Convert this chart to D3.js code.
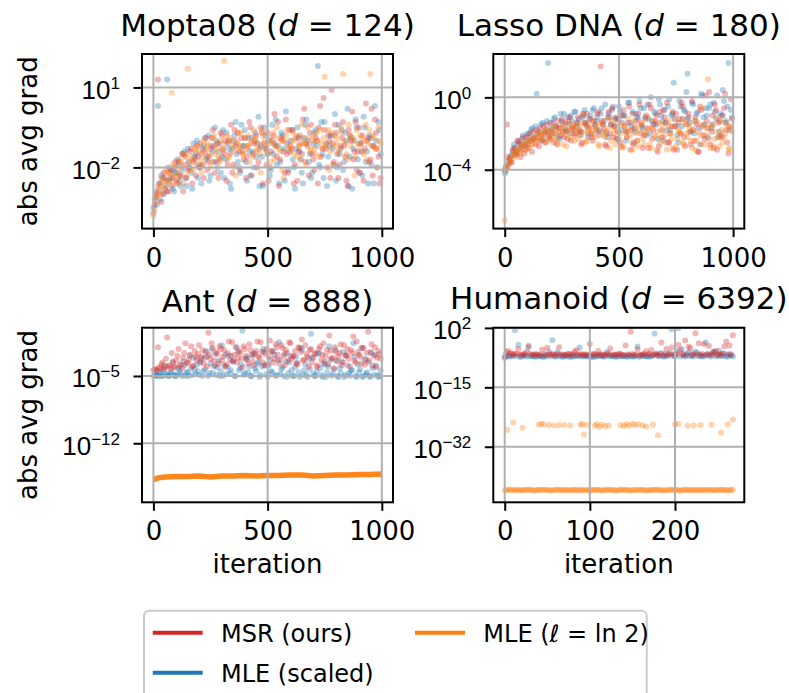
<!DOCTYPE html>
<html>
<head>
<meta charset="utf-8">
<script src="https://cdn.jsdelivr.net/npm/d3@7/dist/d3.min.js"></script>
<style>
body { margin: 0; background: #fff; }
svg { display: block; font-family: "DejaVu Sans", sans-serif; }
</style>
</head>
<body>
<div id="chart"></div>
<script>
// values are log10 of abs avg grad
// each long run is sampled at two interleaved sets of iterations
var iterLong = d3.range(0, 1000, 10);
var iterLong2 = d3.range(5, 1000, 10);
var iterHum = d3.range(0, 272, 4);
var iterHum2 = d3.range(2, 270, 4);

var moptaMSR = [
  -3.7, -3.1, 1.3, -2.6, -3.0, -2.4, -2.9, -2.2, -2.7, -2.0,
  -2.5, -1.8, -2.3, -2.9, -1.6, -2.1, -1.4, -2.6, -1.7, -1.2,
  -2.0, -1.5, -2.4, -0.9, -1.8, -1.3, -0.6, -2.2, -1.1, -1.7,
  -0.8, -1.5, -2.5, -1.0, -0.4, -1.9, -1.2, -0.7, -2.1, -1.4,
  -0.9, -1.6, -0.3, -2.3, -1.1, -0.8, -1.8, -0.5, -2.6, -1.3,
  -0.7, -2.0, -1.0, 0.0, -1.6, -2.7, -0.9, -1.4, -0.2, -2.2,
  -1.2, -0.6, -1.9, -2.5, -0.8, -1.5, 0.2, -1.1, -2.3, -0.4,
  -1.7, -0.9, -2.6, 0.3, -1.3, -0.6, -2.0, -1.0, 0.9, -1.8,
  -0.7, -2.4, -1.2, -0.3, -1.6, -2.7, -0.8, 0.1, -1.4, -2.1,
  -0.5, -1.1, -2.5, 0.4, -0.9, -1.7, -2.3, -0.2, -1.3, -2.6
];
var moptaMSR2 = [
  -3.4, -3.0, -2.8, -3.3, -2.2, -2.5, -2.9, -2.1, -2.4, -1.8,
  -2.6, -2.3, -1.5, -1.9, -2.4, -2.0, -1.3, -1.8, -2.3, -1.6,
  -1.1, -1.9, -1.4, -2.1, -1.6, -0.9, -1.2, -1.8, -2.4, -0.7,
  -1.3, -1.0, -1.9, -1.5, -2.2, -0.6, -1.1, -1.4, -0.9, -1.7,
  -2.4, -1.2, -0.5, -1.5, -1.0, -2.0, -1.3, -0.7, -1.1, -1.9,
  -2.5, -1.4, -0.8, -1.2, -0.3, -1.7, -1.0, -2.2, -1.5, -0.6,
  -1.3, -2.6, -0.9, -1.4, -1.1, -0.2, -1.8, -1.2, -0.7, -1.5,
  -2.1, -1.0, -0.5, -1.6, 0.6, -1.3, -0.8, -2.4, -1.1, -0.4,
  -1.5, -1.9, -0.9, -1.2, -2.5, -0.6, -1.0, -1.7, -0.3, -1.4,
  -2.2, -0.8, -1.3, -1.0, -1.8, 0.2, -1.2, -0.7, -1.6, -2.4
];
var moptaScaled = [
  -3.5, -2.9, 0.3, -3.2, -2.4, -2.8, 1.3, -2.5, -2.1, -2.9,
  -2.2, -1.9, -2.7, -1.5, -2.4, -1.3, -2.0, -2.8, -1.6, -1.0,
  -1.9, -2.6, -1.2, -1.7, -0.8, -2.3, -1.4, -0.5, -2.0, -1.1,
  -1.6, -2.4, -0.7, -1.3, -2.8, -1.0, -0.3, -1.8, -2.2, -1.2,
  -0.6, -2.5, -1.4, -0.9, -2.0, -1.6, -0.1, -1.2, -2.7, -0.8,
  -1.5, -2.3, -0.4, -1.1, -1.9, -2.6, -0.7, -1.3, 0.1, -2.1,
  -1.0, -1.7, -2.8, -0.5, -1.4, -2.2, -0.9, -0.2, -1.8, -2.4,
  -1.1, -0.6, 1.8, -2.0, -1.5, -0.3, -2.7, -1.2, -0.8, -1.9,
  -2.5, -0.4, -1.3, -2.1, -0.7, 0.2, -1.6, -2.8, -1.0, -0.5,
  -2.2, -1.4, -0.1, -1.8, -2.6, -0.9, -1.2, 0.3, -2.0, -0.6
];
var moptaScaled2 = [
  -3.2, -3.4, -2.6, -2.3, -3.0, -2.7, -2.0, -2.4, -2.8, -2.2,
  -1.7, -2.5, -2.1, -1.4, -2.7, -1.8, -2.2, -1.1, -1.5, -2.4,
  -2.0, -1.3, -0.9, -1.6, -2.5, -1.2, -1.8, -1.0, -1.4, -2.2,
  -0.6, -1.7, -1.1, -2.6, -1.3, -0.8, -1.5, -2.0, -0.4, -1.2,
  -1.8, -0.9, -2.3, -1.4, -0.7, -1.1, -2.7, -1.6, -0.5, -1.3,
  -1.0, -2.1, -1.5, -0.2, -1.2, -1.8, -0.8, -2.5, -1.1, -1.4,
  -0.6, -2.0, -1.3, -0.9, -1.7, -2.6, -0.4, -1.0, -1.5, -2.2,
  -0.7, -1.2, -1.9, -0.3, -2.4, -1.1, -1.6, -0.8, -1.3, 0.0,
  -2.0, -1.5, -0.6, -1.8, -1.0, -2.7, -0.9, -1.3, -0.2, -1.7,
  -1.1, -2.3, -0.5, -1.4, -0.8, -1.9, -2.6, -1.0, -0.3, -1.5
];
var moptaLn2 = [
  -3.8, -3.3, -2.7, -3.0, -2.5, -2.8, -2.2, -2.6, 0.8, -2.3,
  -2.0, -2.4, -1.8, -2.6, -1.5, 1.7, -2.1, -1.7, -1.3, -1.9,
  -1.4, -2.2, -1.0, -1.6, -1.2, -2.0, -0.9, -1.5, -1.1, -1.8,
  -1.3, 2.0, -0.8, -1.6, -1.0, -1.4, -2.3, -0.7, -1.2, -1.5,
  -0.9, -1.3, -1.8, -1.0, -0.6, -1.4, -1.1, -2.2, -0.8, -1.2,
  -1.5, -0.9, -1.1, -1.7, -0.5, -1.3, -1.0, -2.4, -0.8, -1.2,
  -1.4, -0.7, -1.0, -1.6, -1.2, -0.4, -1.1, -1.9, -0.9, -1.3,
  -0.8, -1.5, -1.0, -0.6, -1.3, 1.4, -1.1, -2.1, -0.7, -1.2,
  -0.9, -1.4, -0.5, 1.5, -1.1, -1.7, -0.8, -1.0, -2.3, -0.6,
  -1.2, -0.9, -1.5, -0.4, -1.1, 1.5, -0.8, -1.3, -2.0, -1.0
];
var moptaLn22 = [
  -3.6, -3.1, -2.9, -2.4, -2.7, -2.1, -2.5, -2.3, -1.9, -2.6,
  -2.2, -1.7, -2.0, -1.5, -2.3, -1.8, -1.6, -2.1, -1.4, -1.2,
  -1.7, -1.9, -1.3, -1.1, -1.5, -1.8, -0.8, -1.3, -1.6, -1.0,
  -1.4, -1.1, -1.7, -0.9, -1.2, -2.0, -1.0, -1.3, -0.7, -1.5,
  -1.2, -0.8, -1.1, -1.6, -0.9, -1.3, -1.5, -0.6, -1.0, -1.4,
  -1.1, -1.8, -0.7, -1.2, -0.9, -1.4, -2.1, -1.0, -0.6, -1.3,
  -1.0, -1.5, -0.8, -1.2, -1.7, -0.9, -1.1, -0.5, -1.4, -1.0,
  -1.3, -0.7, -1.6, -1.1, -0.9, -1.2, -0.6, -1.4, -1.9, -0.8,
  -1.1, -1.3, -0.7, -1.0, -1.5, -0.4, -1.2, -0.9, -1.6, -1.1,
  -0.8, -1.4, -1.0, -1.7, -0.6, -1.2, -0.9, -1.3, -0.5, -1.1
];

var lassoMSR = [
  -4.0, -1.5, -3.4, -3.6, -2.8, -3.1, -2.5, -3.3, -2.2, -2.9,
  -2.6, -2.0, -3.0, -2.3, -1.8, -2.7, -2.1, -1.6, -2.5, -1.9,
  -2.3, -1.4, -2.0, -2.6, -1.7, -1.2, -2.2, -1.8, -1.3, -2.4,
  -1.6, -2.0, -1.1, -1.9, -2.5, -1.4, -0.9, -1.7, -2.2, -1.3,
  -1.8, -0.8, 1.7, -1.5, -2.6, -1.1, -2.0, -0.6, -1.6, -2.3,
  -1.2, -2.7, -0.7, -1.9, -1.4, -2.9, -0.9, -1.7, -2.4, -0.4,
  -1.5, -2.1, -1.0, -2.8, -0.6, -1.8, -1.3, -3.0, -0.8, -2.2,
  -1.1, -0.3, -2.5, -1.6, -2.9, -0.9, -1.4, -2.0, -0.5, -2.7,
  -1.2, -1.9, -0.2, -2.4, -1.5, -3.0, -0.7, -2.1, 0.1, -1.7,
  -2.6, -1.0, -0.4, -2.9, -1.3, -2.2, -0.6, -1.8, -3.1, -0.1
];
var lassoMSR2 = [
  -3.8, -3.3, -3.6, -2.9, -3.2, -2.4, -2.9, -2.6, -3.1, -2.2,
  -2.8, -2.4, -1.9, -2.6, -2.2, -1.7, -2.4, -2.0, -1.5, -2.2,
  -1.8, -2.5, -1.6, -1.3, -2.1, -1.9, -1.4, -2.3, -1.1, -1.7,
  -2.1, -1.4, -1.8, -2.6, -1.0, -1.5, -2.0, -1.2, -2.4, -1.6,
  -0.9, -2.1, -1.3, -1.8, -2.7, -0.8, -1.5, -2.2, -1.1, -1.9,
  -2.5, -1.0, -1.6, -2.2, -0.5, -1.8, -2.6, -1.3, -0.9, -2.0,
  -2.8, -1.2, -1.7, -0.4, -2.3, -1.5, -1.0, -2.7, -1.8, -0.7,
  -1.4, -2.5, -2.0, -0.8, -1.6, -2.9, -1.2, -0.3, -2.2, -1.5,
  -0.9, -2.6, -1.8, -1.1, -3.0, -0.5, -1.6, -2.3, -1.3, 0.3,
  -1.9, -2.8, -0.7, -1.4, -2.1, -1.0, 0.2, -2.5, -1.6, -1.2
];
var lassoScaled = [
  -4.2, -3.9, -3.5, -3.2, -2.6, -3.0, -2.4, -2.8, -2.1, -2.6,
  -2.0, -2.4, -1.7, -2.2, 0.2, -1.9, -1.5, -2.3, -1.8, 1.9,
  -1.4, -2.0, -1.1, -1.7, -2.3, -1.3, -0.9, -1.9, -1.5, -1.0,
  -1.8, -0.8, -1.4, -2.1, -1.1, -0.7, -1.6, -1.2, -2.0, -0.6,
  -1.3, -1.9, -0.9, -1.5, -0.4, -2.2, -1.1, -0.7, -1.6, -1.2,
  -0.5, -1.8, -1.0, -2.4, -0.3, -1.4, -0.8, -1.9, -1.1, -0.2,
  -1.6, -0.6, -2.1, -1.2, 0.0, -1.5, -0.9, -2.3, -0.4, -1.3,
  -0.7, -1.8, -0.1, -1.0, 0.8, -1.6, -2.5, -0.5, -1.2, -0.8,
  1.3, -1.4, -0.3, -2.0, -0.9, -1.7, 0.2, -1.1, -0.6, -2.2,
  -0.4, -1.5, -0.8, 0.1, -1.9, -1.0, -0.2, -1.3, 1.9, -0.7
];
var lassoScaled2 = [
  -4.1, -3.7, -3.3, -3.0, -2.8, -3.1, -2.6, -2.3, -2.7, -2.4,
  -2.1, -1.8, -2.3, -1.6, -2.0, -2.4, -1.4, -1.9, -1.3, -2.1,
  -1.7, -1.2, -1.6, -2.2, -0.9, -1.5, -1.8, -1.1, -2.0, -1.3,
  -0.8, -1.6, -1.2, -1.9, -0.9, -1.4, -2.2, -1.0, -0.7, -1.5,
  -1.1, -1.8, -0.6, -1.3, -2.0, -0.9, -1.5, -0.5, -1.2, -2.3,
  -0.8, -1.4, -1.0, -1.9, -0.3, -1.6, -2.5, -0.9, -1.2, -0.6,
  -1.7, -1.1, -0.4, -2.0, -1.3, -0.8, -1.5, -0.1, -1.0, -2.4,
  -1.4, -0.5, -1.8, -0.9, -1.2, -2.1, -0.2, -1.6, -0.7, 0.3,
  -1.1, -1.9, -0.4, -1.3, -0.8, -2.6, 0.1, -1.5, -1.0, -0.6,
  -1.7, -0.3, -1.2, -2.2, -0.9, 0.4, -1.4, -0.5, -1.8, -1.1
];
var lassoLn2 = [
  -6.8, -3.9, -3.6, -3.4, -3.1, -3.3, -2.9, -3.0, -2.7, -2.5,
  -2.8, -2.4, -2.6, -2.2, -2.5, -2.0, -2.3, -2.1, -1.8, -2.4,
  -2.0, -2.2, -1.7, -2.5, -1.9, -1.6, -2.1, -2.7, -1.8, -1.5,
  -2.0, -1.7, -2.3, -1.6, -0.9, -1.9, -2.4, -1.5, -1.8, -2.1,
  -1.6, -2.6, -1.4, -1.9, -2.2, -1.7, -2.8, -1.3, -2.0, -1.8,
  -2.3, -1.5, -2.7, -1.9, -1.2, -2.1, -2.9, -1.6, -2.4, -1.8,
  -1.4, -2.6, -2.0, -1.7, -2.8, -1.3, -2.2, -1.9, -2.5, -1.5,
  -2.1, -2.9, -1.6, -2.3, -1.2, -2.7, -1.8, -2.0, -2.5, -1.4,
  -2.2, -1.7, -2.8, -1.3, -2.4, -1.9, -2.6, -1.5, -2.1, 1.0,
  -2.8, -1.6, -2.3, -1.1, -2.7, -1.8, -2.2, -1.4, -2.9, -1.7
];
var lassoLn22 = [
  -4.0, -3.8, -3.5, -3.2, -3.0, -2.8, -3.1, -2.7, -2.5, -2.9,
  -2.3, -2.6, -2.2, -2.4, -1.9, -2.3, -2.0, -2.5, -1.8, -2.2,
  -1.9, -1.6, -2.3, -2.0, -1.7, -2.6, -1.5, -1.9, -2.2, -1.7,
  -2.4, -1.5, -1.9, -2.1, -1.4, -2.5, -1.7, -2.0, -1.3, -2.2,
  -1.8, -2.7, -1.5, -2.1, -1.9, -1.2, -2.4, -1.7, -2.6, -1.4,
  -2.0, -2.8, -1.6, -2.2, -1.8, -2.5, -1.3, -2.0, -2.7, -1.5,
  -2.3, -1.9, -1.1, -2.6, -1.7, -2.1, -2.9, -1.4, -2.2, -1.8,
  -2.5, -1.3, -2.0, -2.8, -1.6, -2.3, -1.9, -1.2, -2.6, -2.0,
  -1.5, -2.4, -1.8, -2.9, -1.4, -2.1, -0.6, -2.6, -1.7, -2.3,
  -1.5, -2.7, -1.9, -2.2, -1.3, -2.5, -2.0, -1.6, -2.8, -1.9
];

var antMSR = [
  -4.4, -4.3, -2.0, -4.2, -3.6, -4.1, -1.0, -3.9, -2.6, -4.0,
  -3.4, -2.2, -3.8, -3.1, -1.6, -3.6, -2.8, -4.0, -2.4, -3.3,
  -1.8, -3.0, -3.7, -2.5, -0.5, -3.2, -2.1, -3.9, -2.7, -1.9,
  -3.4, -2.3, -3.8, -1.4, -2.9, -3.5, -2.0, -3.1, -2.6, -4.1,
  -2.2, -3.3, -1.7, -2.8, -3.9, -2.4, -3.0, -1.5, -3.6, -2.7,
  -3.8, -1.3, -2.5, -3.2, -2.0, -3.7, -1.8, -2.9, -2.3, -3.4,
  -1.6, -3.0, -2.4, -3.8, -2.1, -1.2, -3.3, -2.7, -4.0, -2.2,
  -3.1, -2.6, -3.9, -1.9, -2.8, -3.5, -2.3, -0.8, -3.2, -4.2,
  -2.5, -3.0, -1.7, -3.6, -2.9, -2.2, -4.0, -2.6, -3.4, -1.4,
  -2.8, -3.7, -2.1, -3.3, -0.4, -2.5, -3.9, -2.0, -3.1, -2.7
];
var antMSR2 = [
  -4.3, -4.4, -4.1, -3.8, -4.3, -3.2, -4.0, -4.2, -3.5, -4.1,
  -2.9, -3.9, -4.2, -2.6, -3.7, -3.3, -1.9, -3.9, -3.0, -2.7,
  -3.5, -2.3, -3.1, -4.0, -2.8, -1.6, -3.4, -2.5, -3.7, -2.2,
  -3.0, -4.0, -2.6, -3.3, -1.5, -2.8, -3.6, -2.4, -3.2, -1.9,
  -2.9, -3.7, -2.3, -3.5, -2.7, -1.4, -3.1, -2.5, -3.9, -2.2,
  -3.0, -2.4, -3.6, -1.7, -2.8, -3.3, -2.1, -3.9, -2.6, -1.5,
  -3.2, -2.9, -3.7, -2.0, -2.5, -3.4, -1.8, -3.0, -2.3, -3.6,
  -2.7, -4.0, -2.2, -3.3, -1.6, -2.9, -3.8, -2.4, -3.1, -2.0,
  -3.5, -2.6, -3.9, -1.8, -2.8, -3.2, -2.3, -0.9, -3.6, -2.5,
  -3.0, -2.1, -3.8, -2.6, -3.4, -1.7, -2.9, -4.1, -2.4, -3.2
];
var antScaled = [
  -5.0, -4.9, -5.0, -4.7, -5.0, -3.9, -4.8, -5.0, -4.5, -4.9,
  -5.0, -4.2, -4.8, -3.5, -5.0, -4.6, -2.9, -4.9, -4.3, -3.8,
  -4.9, -3.2, -4.5, -2.4, -5.0, -3.7, -4.7, -2.7, -4.1, -5.0,
  -1.8, -3.9, -4.8, -2.9, -4.4, -3.4, -5.0, -2.5, -4.2, -0.3,
  -4.7, -3.1, -4.0, -5.0, -2.6, -4.5, -3.6, -4.9, -2.2, -3.9,
  -5.1, -3.3, -4.6, -2.8, -4.9, -1.5, -4.3, -5.0, -3.5, -4.7,
  -2.9, -5.0, -4.1, -3.6, -5.1, -2.3, -4.4, -4.9, -3.2, -0.6,
  -4.8, -5.0, -2.7, -4.2, -5.1, -3.8, -4.6, -1.9, -5.0, -4.3,
  -3.4, -5.1, -4.7, -2.5, -4.9, -3.9, -5.0, -4.4, -3.0, -5.1,
  -4.6, -2.1, -5.0, -4.8, -3.6, -5.1, -4.2, -2.8, -4.9, -5.0
];
var antScaled2 = [
  -4.9, -5.0, -4.6, -5.0, -4.4, -4.9, -5.0, -4.7, -3.6, -5.0,
  -4.8, -4.4, -5.0, -3.9, -4.6, -5.0, -4.2, -3.1, -4.8, -4.5,
  -3.6, -5.0, -4.3, -3.0, -4.7, -2.2, -4.0, -4.9, -3.4, -4.5,
  -5.0, -2.8, -4.1, -4.7, -3.5, -5.0, -2.0, -4.4, -3.8, -4.9,
  -3.2, -4.6, -5.0, -2.9, -4.2, -3.7, -5.1, -4.0, -2.5, -4.8,
  -3.9, -4.5, -2.4, -5.0, -3.3, -4.8, -4.1, -2.7, -5.1, -3.6,
  -4.4, -5.0, -3.0, -4.6, -2.1, -4.9, -3.8, -5.1, -4.3, -3.1,
  -5.0, -4.5, -2.6, -4.9, -3.7, -5.1, -4.0, -3.3, -4.8, -2.3,
  -5.0, -4.2, -3.5, -5.1, -2.9, -4.7, -4.4, -1.6, -5.0, -3.8,
  -4.3, -5.1, -3.2, -4.6, -5.0, -2.6, -4.9, -3.9, -5.1, -4.4
];
var antLn2Iter = [0, 20, 50, 100, 150, 200, 250, 300, 350, 400, 450, 500, 550, 600, 650, 700, 750, 800, 850, 900, 950, 999];
var antLn2 = [-15.8, -15.6, -15.5, -15.45, -15.45, -15.4, -15.5, -15.4, -15.4, -15.35, -15.4, -15.35, -15.35, -15.3, -15.3, -15.4, -15.35, -15.3, -15.3, -15.25, -15.25, -15.2];

var humMSR = [
  -6.6, -4.6, -5.2, -5.5, -4.0, -5.6, -5.4, -3.1, -5.7, -5.5,
  -5.6, -4.2, -5.7, -5.6, -5.5, -5.8, -3.5, -5.6, -5.7, -5.5,
  -5.6, -4.4, -5.7, -5.8, -5.6, -2.6, -5.5, -5.7, -5.6, -5.8,
  -5.5, -3.9, -5.6, -5.7, -5.5, -5.8, -5.6, 0.9, -5.7, -4.1,
  -5.6, -5.5, -5.7, -4.3, -5.6, -5.8, -2.2, -5.5, -5.6, -3.6,
  -5.7, -2.9, -5.5, -1.6, -3.4, -5.6, 0.5, -2.4, -5.5, -5.8,
  -3.2, -5.6, -4.5, -5.7, -5.4, -1.9, -3.0, -0.1
];
var humMSR2 = [
  -5.0, -5.5, -5.6, -5.4, -5.7, -5.6, -4.8, -5.5, -5.7, -5.6,
  -5.8, -5.5, -3.7, -5.6, -5.7, -5.5, -5.6, -5.8, -5.4, -5.6,
  -4.9, -5.7, -5.5, -5.6, -5.8, -5.7, -5.5, -4.6, -5.6, -5.7,
  -5.5, -5.8, -5.6, -5.4, -5.7, -3.0, -5.6, -5.5, -5.7, -5.8,
  -5.6, -4.7, -5.5, -5.7, -5.6, -5.4, -5.8, -4.0, -5.6, -5.7,
  -5.5, -4.4, -5.6, -5.8, -3.8, -5.5, -5.7, -5.6, -2.7, -5.4,
  -5.7, -4.9, -5.6, -5.5, -3.3, -5.7, -5.6
];
var humScaled = [
  -6.2, -6.0, -6.1, 1.3, -2.8, -6.2, -6.0, -3.5, -6.1, -6.3,
  -6.0, -6.2, -6.1, -4.8, -1.5, -6.2, -6.1, -6.3, -6.0, -6.1,
  -6.2, -6.0, -3.6, -6.1, -6.2, -6.0, -6.3, -6.1, -6.0, -6.2,
  -4.9, -6.1, -6.0, -6.2, -6.1, -6.0, -6.3, -6.1, -6.2, -3.3,
  -6.0, -6.1, -6.2, -6.1, 0.4, -6.0, -5.2, -6.2, -6.0, 1.6,
  -6.1, 1.9, -4.0, -6.2, -5.0, -6.0, -4.8, -6.1, -6.2, -2.2,
  -5.9, -5.0, -6.1, -4.6, -6.0, -6.2, -5.5, -6.1
];
var humScaled2 = [
  -6.1, -6.2, -6.0, -6.1, -6.3, -6.0, -6.2, -6.1, -6.0, -6.2,
  -6.1, -6.3, -6.0, -6.1, -6.2, -5.0, -6.0, -6.1, -6.2, -6.3,
  -6.0, -6.1, -6.2, -6.0, -6.1, -6.3, -6.2, -6.0, -6.1, -6.2,
  -6.0, -6.1, -6.3, -6.0, -6.2, -6.1, -6.0, -6.2, -6.1, -6.3,
  -6.0, -6.1, -6.2, -6.0, -5.3, -6.1, -6.2, -6.0, -5.1, -6.1,
  -4.7, -6.2, -6.0, -5.4, -6.1, -6.2, -5.2, -6.0, -6.1, -5.6,
  -6.2, -4.9, -6.0, -6.1, -5.3, -6.2, -6.0
];
var humLn2 = [
  -44.5, -44.3, -44.4, -44.4, -44.3, -44.5, -44.4, -44.3, -44.4, -44.5,
  -44.4, -44.3, -44.4, -44.4, -44.5, -44.3, -44.4, -44.4, -44.3, -44.5,
  -44.4, -44.4, -44.5, -44.3, -44.4, -44.5, -44.4, -44.3, -44.4, -44.5,
  -44.3, -44.4, -44.4, -44.5, -44.3, -44.4, -44.4, -44.5, -44.3, -44.4,
  -44.4, -44.3, -44.5, -44.4, -44.4, -44.3, -44.4, -44.5, -44.4, -44.3,
  -44.4, -44.4, -44.5, -44.3, -44.4, -44.4, -44.3, -44.5, -44.4, -44.4,
  -44.3, -44.4, -44.5, -44.4, -44.3, -44.4, -44.4, -44.3
];
var humLn2b = [
  -44.4, -44.4, -44.3, -44.5, -44.4, -44.4, -44.3, -44.4, -44.5, -44.4,
  -44.3, -44.4, -44.4, -44.5, -44.4, -44.3, -44.4, -44.5, -44.4, -44.4,
  -44.3, -44.4, -44.4, -44.5, -44.3, -44.4, -44.4, -44.4, -44.5, -44.3,
  -44.4, -44.4, -44.5, -44.4, -44.3, -44.4, -44.4, -44.5, -44.4, -44.3,
  -44.4, -44.5, -44.4, -44.4, -44.3, -44.4, -44.5, -44.4, -44.3, -44.4,
  -44.4, -44.5, -44.3, -44.4, -44.4, -44.5, -44.4, -44.3, -44.4, -44.4,
  -44.5, -44.4, -44.3, -44.4, -44.4, -44.5, -44.4
];
var humLn2SparseIter = [3, 10, 21, 40, 43, 46, 52, 58, 64, 70, 77, 89, 91, 93, 96, 106, 108, 111, 114, 118,
  122, 136, 140, 143, 146, 150, 153, 157, 162, 166, 174, 180, 200, 204, 215, 222, 230, 243, 254, 262, 268];
var humLn2Sparse = [-27.2, -25.1, -26.6, -25.7, -25.4, -25.6, -25.8, -25.9, -25.8, -25.8, -25.9, -25.7, -25.5, -28.5, -25.8, -26.0, -25.5, -26.3, -25.7, -26.1,
  -25.9, -25.8, -26.1, -25.6, -25.9, -25.4, -25.8, -25.6, -25.9, -26.2, -25.7, -28.7, -25.6, -25.5, -26.0, -25.9, -25.8, -25.7, -28.0, -25.6, -24.2];

var titles = ["Mopta08", "Lasso DNA", "Ant", "Humanoid"];
var dims = ["124", "180", "888", "6392"];
var xTicksLong = [0, 500, 1000];
var xTicksHum = [0, 100, 200];
var yTickExps = [[1, -2], [0, -4], [-5, -12], [2, -15, -32]];
var legendNames = ["MSR (ours)", "MLE (scaled)", "MLE (\u2113 = ln 2)"];

var RED = "#d62728", BLUE = "#1f77b4", ORANGE = "#ff7f0e";

function pts(iters, vals) {
  return vals.map(function(v, i) { return {x: iters[i], y: Math.pow(10, v)}; });
}

var panels = [
  {left: 142, top: 54, xd: [-49.95, 1048.95], yd: [2.254, -4.296], titleY: 36, ylab: true, xlab: false,
   xt: xTicksLong,
   scatter: [[pts(iterLong, moptaScaled), BLUE], [pts(iterLong2, moptaScaled2), BLUE],
             [pts(iterLong, moptaMSR), RED], [pts(iterLong2, moptaMSR2), RED],
             [pts(iterLong, moptaLn2), ORANGE], [pts(iterLong2, moptaLn22), ORANGE]]},
  {left: 493.3, top: 54, xd: [-49.95, 1048.95], yd: [2.395, -7.25], titleY: 36, ylab: false, xlab: false,
   xt: xTicksLong,
   scatter: [[pts(iterLong, lassoScaled), BLUE], [pts(iterLong2, lassoScaled2), BLUE],
             [pts(iterLong, lassoMSR), RED], [pts(iterLong2, lassoMSR2), RED],
             [pts(iterLong, lassoLn2), ORANGE], [pts(iterLong2, lassoLn22), ORANGE]]},
  {left: 142, top: 327.7, xd: [-49.95, 1048.95], yd: [0.024, -18.14], titleY: 311.5, ylab: true, xlab: true,
   xt: xTicksLong,
   scatter: [[pts(iterLong, antScaled), BLUE], [pts(iterLong2, antScaled2), BLUE],
             [pts(iterLong, antMSR), RED], [pts(iterLong2, antMSR2), RED]],
   line: [pts(antLn2Iter, antLn2), ORANGE]},
  {left: 493.3, top: 327.7, xd: [-13.4, 281.4], yd: [2.06, -47.9], titleY: 308.5, ylab: false, xlab: true,
   xt: xTicksHum,
   scatter: [[pts(iterHum, humScaled), BLUE], [pts(iterHum2, humScaled2), BLUE],
             [pts(iterHum, humMSR), RED], [pts(iterHum2, humMSR2), RED],
             [pts(iterHum, humLn2), ORANGE], [pts(iterHum2, humLn2b), ORANGE],
             [pts(humLn2SparseIter, humLn2Sparse), ORANGE]]}
];
var PW = 251, PH = 174.6;

var svg = d3.select("#chart").append("svg")
    .attr("width", 789)
    .attr("height", 693);

panels.forEach(function(p, k) {
  var x = d3.scaleLinear().domain(p.xd).range([0, PW]);
  var y = d3.scaleLog().domain([Math.pow(10, p.yd[1]), Math.pow(10, p.yd[0])]).range([PH, 0]);
  var g = svg.append("g").attr("transform", "translate(" + p.left + "," + p.top + ")");

  svg.append("clipPath").attr("id", "clip" + k)
    .append("rect").attr("width", PW).attr("height", PH);
  var plot = g.append("g").attr("clip-path", "url(#clip" + k + ")");

  p.scatter.forEach(function(s) {
    plot.append("g").selectAll("circle")
      .data(s[0])
      .enter()
      .append("circle")
      .attr("cx", function(d) { return x(d.x); })
      .attr("cy", function(d) { return y(d.y); })
      .attr("r", 3)
      .style("fill", s[1])
      .style("fill-opacity", 0.34);
  });
  if (p.line) {
    plot.append("path")
      .datum(p.line[0])
      .attr("d", d3.line().x(function(d) { return x(d.x); }).y(function(d) { return y(d.y); }))
      .style("fill", "none")
      .style("stroke", p.line[1])
      .style("stroke-width", 5.5)
      .style("stroke-opacity", 0.95);
  }

  var yt = yTickExps[k].map(function(e) { return Math.pow(10, e); });

  // grid over the points, like matplotlib does for scatter
  g.append("g").selectAll("line.gx").data(p.xt).enter().append("line")
    .attr("x1", function(d) { return x(d); }).attr("x2", function(d) { return x(d); })
    .attr("y1", 0).attr("y2", PH)
    .style("stroke", "#b0b0b0").style("stroke-width", 2);
  g.append("g").selectAll("line.gy").data(yt).enter().append("line")
    .attr("x1", 0).attr("x2", PW)
    .attr("y1", function(d) { return y(d); }).attr("y2", function(d) { return y(d); })
    .style("stroke", "#b0b0b0").style("stroke-width", 2);

  var xa = g.append("g").attr("transform", "translate(0," + PH + ")")
    .call(d3.axisBottom(x).tickValues(p.xt).tickSize(8.5).tickPadding(11).tickFormat(d3.format("d")));
  xa.select(".domain").remove();
  xa.selectAll("line").style("stroke-width", 2);
  xa.selectAll("text").style("font-size", "26px").style("font-family", "DejaVu Sans").attr("fill", "#000");

  var ya = g.append("g")
    .call(d3.axisLeft(y).tickValues(yt).tickSize(8.5).tickFormat(""));
  ya.select(".domain").remove();
  ya.selectAll("line").style("stroke-width", 2);
  ya.selectAll(".tick text").each(function(d) {
    var e = Math.round(Math.log10(d));
    var t = d3.select(this).attr("x", -22).attr("y", 11).attr("dy", null)
      .style("font-size", "26px").attr("fill", "#000").attr("text-anchor", "end");
    t.append("tspan").text("10");
    t.append("tspan").attr("dy", -10).style("font-size", "17px")
      .text(e < 0 ? "\u2212" + (-e) : String(e));
  });

  g.append("rect").attr("width", PW).attr("height", PH)
    .style("fill", "none").style("stroke", "#000").style("stroke-width", 2);

  var tt = svg.append("text")
    .attr("x", p.left + PW / 2).attr("y", p.titleY)
    .attr("text-anchor", "middle").style("font-size", "31px");
  tt.append("tspan").text(titles[k] + " (");
  tt.append("tspan").style("font-style", "italic").text("d");
  tt.append("tspan").text(" = " + dims[k] + ")");

  if (p.ylab) {
    svg.append("text")
      .attr("transform", "translate(37," + (p.top + PH / 2) + ") rotate(-90)")
      .attr("text-anchor", "middle").style("font-size", "26px")
      .text("abs avg grad");
  }
  if (p.xlab) {
    svg.append("text")
      .attr("x", p.left + PW / 2).attr("y", 573)
      .attr("text-anchor", "middle").style("font-size", "26px")
      .text("iteration");
  }
});

// legend
var lg = svg.append("g");
lg.append("rect")
  .attr("x", 144).attr("y", 610.7).attr("width", 502.7).attr("height", 100)
  .attr("rx", 5)
  .style("fill", "#fff").style("fill-opacity", 0.8)
  .style("stroke", "#cccccc").style("stroke-width", 2);
var legendPos = [[152.7, 632.7, RED], [152.7, 672.7, BLUE], [415, 632.7, ORANGE]];
legendNames.forEach(function(name, i) {
  var lp = legendPos[i];
  lg.append("line")
    .attr("x1", lp[0]).attr("x2", lp[0] + 50)
    .attr("y1", lp[1]).attr("y2", lp[1])
    .style("stroke", lp[2]).style("stroke-width", 4);
  lg.append("text")
    .attr("x", lp[0] + 68.3).attr("y", lp[1] + 8.8)
    .style("font-size", "24px")
    .text(name);
});
</script>
</body>
</html>
